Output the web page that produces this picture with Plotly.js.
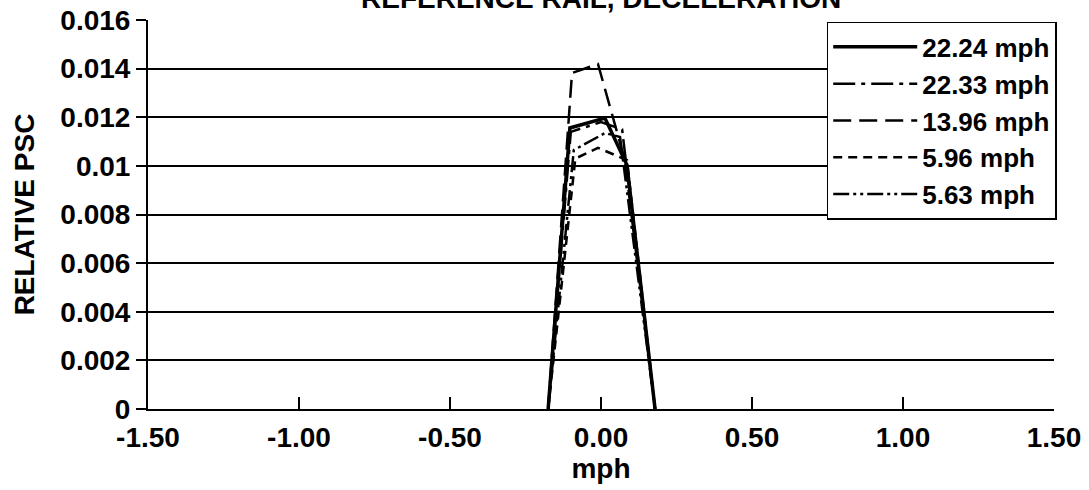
<!DOCTYPE html>
<html>
<head>
<meta charset="utf-8">
<script src="https://cdn.plot.ly/plotly-3.0.1.min.js"></script>
<style>html,body{margin:0;padding:0;background:#fff;}#chart{width:1089px;height:490px;}</style>
</head>
<body>
<div id="chart"></div>
<script>
// Data
const chartTitle = "REFERENCE RAIL, DECELERATION";
const seriesNames = ["22.24 mph", "22.33 mph", "13.96 mph", "5.96 mph", "5.63 mph"];
const x_2224 = [-0.175, -0.103, 0.013, 0.086, 0.179];
const y_2224 = [0, 0.01156, 0.01197, 0.01004, 0];
const x_2233 = [-0.175, -0.100, 0.000, 0.070, 0.179];
const y_2233 = [0, 0.01140, 0.01180, 0.01150, 0];
const x_1396 = [-0.175, -0.096, -0.010, 0.079, 0.179];
const y_1396 = [0, 0.01382, 0.01419, 0.01024, 0];
const x_596 = [-0.175, -0.085, -0.010, 0.086, 0.179];
const y_596 = [0, 0.01030, 0.01074, 0.01024, 0];
const x_563 = [-0.175, -0.090, 0.013, 0.063, 0.179];
const y_563 = [0, 0.01065, 0.01135, 0.01119, 0];
const xTickVals = [-1.5, -1.0, -0.5, 0, 0.5, 1.0, 1.5];
const xTickText = ["-1.50", "-1.00", "-0.50", "0.00", "0.50", "1.00", "1.50"];
const yTickVals = [0, 0.002, 0.004, 0.006, 0.008, 0.01, 0.012, 0.014, 0.016];
const yTickText = ["0", "0.002", "0.004", "0.006", "0.008", "0.01", "0.012", "0.014", "0.016"];

const xs = [x_2224, x_2233, x_1396, x_596, x_563];
const ys = [y_2224, y_2233, y_1396, y_596, y_563];
const dashes = ["solid", "22px,6px,4px,6px", "18px,8px", "9px,6px", "16px,4px,3px,4px,3px,4px"];
const widths = [3.5, 2.5, 2.5, 2.5, 2.5];

const traces = seriesNames.map((n, i) => ({
  type: "scatter", mode: "lines", name: n,
  x: xs[i], y: ys[i],
  line: {color: "#000", width: widths[i], dash: dashes[i]}
}));

const fam = "Liberation Sans, Arial, sans-serif";
const font = {family: fam, size: 28, color: "#000", weight: "bold"};
const legFont = {family: fam, size: 26, color: "#000", weight: "bold"};

const layout = {
  width: 1089, height: 490,
  margin: {l: 148, r: 35, t: 20, b: 81, pad: 0},
  paper_bgcolor: "#fff", plot_bgcolor: "#fff",
  font: font,
  showlegend: true,
  legend: {
    x: 1.003, xanchor: "right", y: 0.995, yanchor: "top",
    bgcolor: "#fff", bordercolor: "#000", borderwidth: 1.5,
    font: legFont, itemwidth: 84, tracegroupgap: 0
  },
  annotations: [{
    text: chartTitle, xref: "paper", yref: "paper", x: 0.5, y: 1,
    xanchor: "center", yanchor: "middle", yshift: 22, showarrow: false,
    font: font
  }],
  xaxis: {
    range: [-1.5, 1.5],
    tickvals: xTickVals, ticktext: xTickText,
    ticks: "inside", ticklen: 12, tickwidth: 2, tickcolor: "#000",
    ticklabelstandoff: 2,
    showgrid: false, zeroline: false,
    showline: true, linecolor: "#000", linewidth: 2,
    tickfont: font,
    title: {text: "mph", font: font, standoff: 6}
  },
  yaxis: {
    range: [0, 0.016],
    tickvals: yTickVals, ticktext: yTickText,
    ticks: "outside", ticklen: 10, tickwidth: 2, tickcolor: "#000",
    showgrid: true, gridcolor: "#000", gridwidth: 2,
    zeroline: false,
    showline: true, linecolor: "#000", linewidth: 2,
    tickfont: font,
    title: {text: "RELATIVE PSC", font: font, standoff: 18}
  }
};

Plotly.newPlot("chart", traces, layout, {staticPlot: true, displayModeBar: false});
</script>
</body>
</html>
